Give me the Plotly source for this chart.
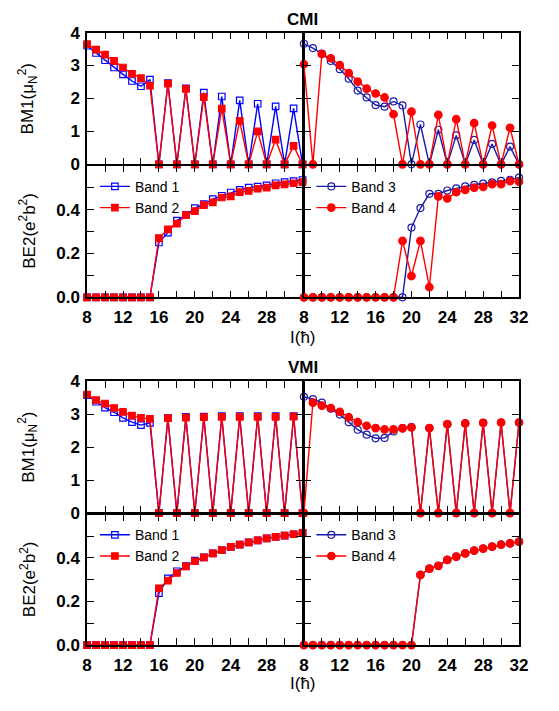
import plotly.graph_objects as go

# ---------------- data ----------------
spin = list(range(8, 33))

# CMI
cmi_bm1_band1 = [3.60, 3.38, 3.16, 2.94, 2.73, 2.53, 2.37, 2.57, 0, 2.47, 0, 2.31, 0, 2.18, 0, 2.06, 0, 1.94, 0, 1.84, 0, 1.76, 0, 1.70, 0]
cmi_bm1_band2 = [3.65, 3.48, 3.33, 3.14, 2.94, 2.75, 2.62, 2.39, 0, 2.45, 0, 2.29, 0, 2.04, 0, 1.69, 0, 1.32, 0, 1.00, 0, 0.75, 0, 0.56, 0]
cmi_be2_band1 = [0, 0, 0, 0, 0, 0, 0, 0, 0.25, 0.295, 0.35, 0.375, 0.407, 0.425, 0.448, 0.463, 0.478, 0.49, 0.50, 0.505, 0.51, 0.52, 0.525, 0.53, 0.535]
cmi_be2_band2 = [0, 0, 0, 0, 0, 0, 0, 0, 0.27, 0.31, 0.336, 0.375, 0.393, 0.42, 0.433, 0.455, 0.46, 0.48, 0.485, 0.495, 0.50, 0.51, 0.515, 0.52, 0.525]
cmi_bm1_band3 = [3.66, 3.53, 3.36, 3.14, 2.89, 2.60, 2.24, 2.03, 1.80, 1.75, 1.91, 1.79, 0, 1.21, 0, 1.05, 0, 0.88, 0, 0.74, 0, 0.62, 0, 0.54, 0]
cmi_bm1_band4 = [3.04, 0, 3.35, 3.22, 3.01, 2.77, 2.51, 2.30, 2.15, 2.03, 1.52, 0, 1.60, 0, 0, 1.50, 0, 1.37, 0, 1.25, 0, 1.18, 0, 1.11, 0]
cmi_be2_band3 = [0, 0, 0, 0, 0, 0, 0, 0, 0, 0, 0, 0, 0.318, 0.407, 0.472, 0.472, 0.487, 0.497, 0.506, 0.513, 0.518, 0.524, 0.531, 0.536, 0.546]
cmi_be2_band4 = [0, 0, 0, 0, 0, 0, 0, 0, 0, 0, 0, 0.257, 0.097, 0.257, 0.046, 0.46, 0.451, 0.479, 0.49, 0.50, 0.503, 0.516, 0.516, 0.53, 0.527]

# VMI
vmi_bm1_band1 = [3.58, 3.38, 3.20, 3.06, 2.89, 2.76, 2.67, 2.74, 0, 2.89, 0, 2.92, 0, 2.93, 0, 2.94, 0, 2.94, 0, 2.94, 0, 2.94, 0, 2.94, 0]
vmi_bm1_band2 = [3.60, 3.43, 3.32, 3.19, 3.07, 2.96, 2.89, 2.86, 0, 2.88, 0, 2.90, 0, 2.91, 0, 2.92, 0, 2.92, 0, 2.92, 0, 2.92, 0, 2.93, 0]
vmi_be2_band1 = [0, 0, 0, 0, 0, 0, 0, 0, 0.239, 0.306, 0.339, 0.363, 0.388, 0.403, 0.421, 0.436, 0.451, 0.461, 0.472, 0.481, 0.49, 0.497, 0.503, 0.509, 0.515]
vmi_be2_band2 = [0, 0, 0, 0, 0, 0, 0, 0, 0.261, 0.296, 0.331, 0.361, 0.385, 0.403, 0.421, 0.436, 0.451, 0.461, 0.472, 0.481, 0.49, 0.497, 0.503, 0.509, 0.515]
vmi_bm1_band3 = [3.53, 3.46, 3.35, 3.17, 2.99, 2.76, 2.53, 2.38, 2.27, 2.28, 2.48, 2.58, 2.61, 0, 2.58, 0, 2.70, 0, 2.72, 0, 2.74, 0, 2.75, 0, 2.75]
vmi_bm1_band4 = [0, 3.35, 3.26, 3.19, 3.07, 2.91, 2.76, 2.65, 2.58, 2.54, 2.54, 2.57, 2.60, 0, 2.58, 0, 2.70, 0, 2.72, 0, 2.74, 0, 2.75, 0, 2.75]
vmi_be2_band3 = [0, 0, 0, 0, 0, 0, 0, 0, 0, 0, 0, 0, 0, 0.322, 0.351, 0.364, 0.391, 0.406, 0.421, 0.434, 0.443, 0.452, 0.461, 0.467, 0.475]
vmi_be2_band4 = [0, 0, 0, 0, 0, 0, 0, 0, 0, 0, 0, 0, 0, 0.322, 0.351, 0.364, 0.391, 0.406, 0.421, 0.434, 0.443, 0.452, 0.461, 0.467, 0.475]

x_major_left = [8, 12, 16, 20, 24, 28]
x_major_right = [8, 12, 16, 20, 24, 28, 32]
x_minor = [10, 14, 18, 22, 26, 30]
bm1_tickvals = [0, 1, 2, 3, 4]
be2_tickvals = [0, 0.2, 0.4]
be2_ticktext = ["0.0", "0.2", "0.4"]
be2_minor = [0.1, 0.3, 0.5]

# ---------------- layout helpers ----------------
W, H = 559, 711
OFF = 8  # the page body adds an 8px margin around the figure
FONT = "Liberation Sans, Arial, sans-serif"

def px_x(p):
    return (p - OFF) / W

def px_y(p):
    return 1 - (p - OFF) / H

XL = (84, 305.0)
XR = (306.4, 527)
ROWS = {
    "cmi_bm1": (24, 159.4),
    "cmi_be2": (160.8, 296),
    "vmi_bm1": (382.3, 517.7),
    "vmi_be2": (519.1, 653.3),
}

BLUE1 = "#0000ff"
BLUE3 = "#1a1aaa"
RED = "#ff0000"

fig = go.Figure()

style = {
    "band1": dict(color=BLUE1, symbol="square-open", name="Band 1", size=6.5),
    "band2": dict(color=RED, symbol="square", name="Band 2", size=6.5),
    "band3": dict(color=BLUE3, symbol="circle-open", name="Band 3", size=7),
    "band4": dict(color=RED, symbol="circle", name="Band 4", size=7.5),
}

def add(y, band, ax, legend=None):
    s = style[band]
    sfx = "" if ax == 1 else str(ax)
    fig.add_trace(go.Scatter(
        x=spin, y=y, mode="lines+markers", name=s["name"],
        line=dict(color=s["color"], width=1.4),
        marker=dict(symbol=s["symbol"], size=s["size"],
                    color=s["color"], line=dict(color=s["color"], width=1.2)),
        xaxis="x" + sfx, yaxis="y" + sfx,
        cliponaxis=False,
        showlegend=legend is not None,
        legend=legend if legend is not None else "legend",
    ))

add(cmi_bm1_band1, "band1", 1)
add(cmi_bm1_band2, "band2", 1)
add(cmi_bm1_band3, "band3", 2)
add(cmi_bm1_band4, "band4", 2)
add(cmi_be2_band1, "band1", 3, "legend")
add(cmi_be2_band2, "band2", 3, "legend")
add(cmi_be2_band3, "band3", 4, "legend2")
add(cmi_be2_band4, "band4", 4, "legend2")
add(vmi_bm1_band1, "band1", 5)
add(vmi_bm1_band2, "band2", 5)
add(vmi_bm1_band3, "band3", 6)
add(vmi_bm1_band4, "band4", 6)
add(vmi_be2_band1, "band1", 7, "legend3")
add(vmi_be2_band2, "band2", 7, "legend3")
add(vmi_be2_band3, "band3", 8, "legend4")
add(vmi_be2_band4, "band4", 8, "legend4")

tickfont = dict(family=FONT, size=17, color="black", weight="bold")

def common_axis():
    return dict(showline=True, linecolor="black", linewidth=1.5, mirror="ticks",
                ticks="inside", ticklen=7, tickwidth=1.2, tickcolor="black",
                showgrid=False, zeroline=False, tickfont=tickfont)

layout = {}
panels = [
    (1, XL, "cmi_bm1", "bm1", "left", False),
    (2, XR, "cmi_bm1", "bm1", "right", False),
    (3, XL, "cmi_be2", "be2", "left", True),
    (4, XR, "cmi_be2", "be2", "right", True),
    (5, XL, "vmi_bm1", "bm1", "left", False),
    (6, XR, "vmi_bm1", "bm1", "right", False),
    (7, XL, "vmi_be2", "be2", "left", True),
    (8, XR, "vmi_be2", "be2", "right", True),
]
for n, xr, row, kind, side, xlabels in panels:
    sfx = "" if n == 1 else str(n)
    top, bot = ROWS[row]
    xa = common_axis()
    major = x_major_left if side == "left" else x_major_right
    xa.update(domain=[px_x(xr[0]), px_x(xr[1])], range=[8, 32],
              anchor="y" + sfx, tickmode="array", tickvals=major,
              ticktext=[str(v) for v in major],
              minor=dict(tickmode="array", tickvals=x_minor, ticks="inside",
                         ticklen=7, tickwidth=1.2, tickcolor="black", showgrid=False))
    if xlabels:
        xa.update(showticklabels=True, ticklabelstandoff=4)
    else:
        xa.update(showticklabels=False)
    ya = common_axis()
    ya.update(domain=[px_y(bot), px_y(top)], anchor="x" + sfx, tickmode="array")
    if kind == "bm1":
        ya.update(range=[0, 4], tickvals=bm1_tickvals,
                  ticktext=[str(v) for v in bm1_tickvals])
    else:
        ya.update(range=[0, 0.6], tickvals=be2_tickvals, ticktext=be2_ticktext,
                  minor=dict(tickmode="array", tickvals=be2_minor, ticks="inside",
                             ticklen=7, tickwidth=1.2, tickcolor="black", showgrid=False))
    ya.update(showticklabels=(side == "left"), ticklabelstandoff=2)
    layout["xaxis" + sfx] = xa
    layout["yaxis" + sfx] = ya

fig.update_layout(**layout)

def legend_at(xp, yp):
    return dict(x=px_x(xp), y=px_y(yp), xanchor="left", yanchor="top",
                bgcolor="rgba(0,0,0,0)", borderwidth=0,
                font=dict(family=FONT, size=14, color="black"),
                tracegroupgap=0, itemwidth=30)

fig.update_layout(
    width=W, height=H,
    margin=dict(l=0, r=0, t=0, b=0),
    paper_bgcolor="white", plot_bgcolor="white",
    legend=legend_at(92, 166),
    legend2=legend_at(314, 166),
    legend3=legend_at(92, 524),
    legend4=legend_at(314, 524),
)

ann = []
def text(xp, yp, t, size=17, bold=False, angle=0):
    ann.append(dict(x=px_x(xp), y=px_y(yp), xref="paper", yref="paper",
                    text=t, showarrow=False, textangle=angle,
                    xanchor="center", yanchor="middle",
                    font=dict(family=FONT, size=size, color="black",
                              weight="bold" if bold else "normal")))

text(305, 11, "CMI", bold=True)
text(305, 368, "VMI", bold=True)
text(23, 92, "BM1(μ<sub>N</sub><sup>2</sup>)", angle=-90)
text(23, 228, "BE2(e<sup>2</sup>b<sup>2</sup>)", angle=-90)
text(23, 450, "BM1(μ<sub>N</sub><sup>2</sup>)", angle=-90)
text(23, 586, "BE2(e<sup>2</sup>b<sup>2</sup>)", angle=-90)
text(305, 337, "I(ħ)")
text(305, 693, "I(ħ)")
fig.update_layout(annotations=ann)

fig.write_html("out.html")
